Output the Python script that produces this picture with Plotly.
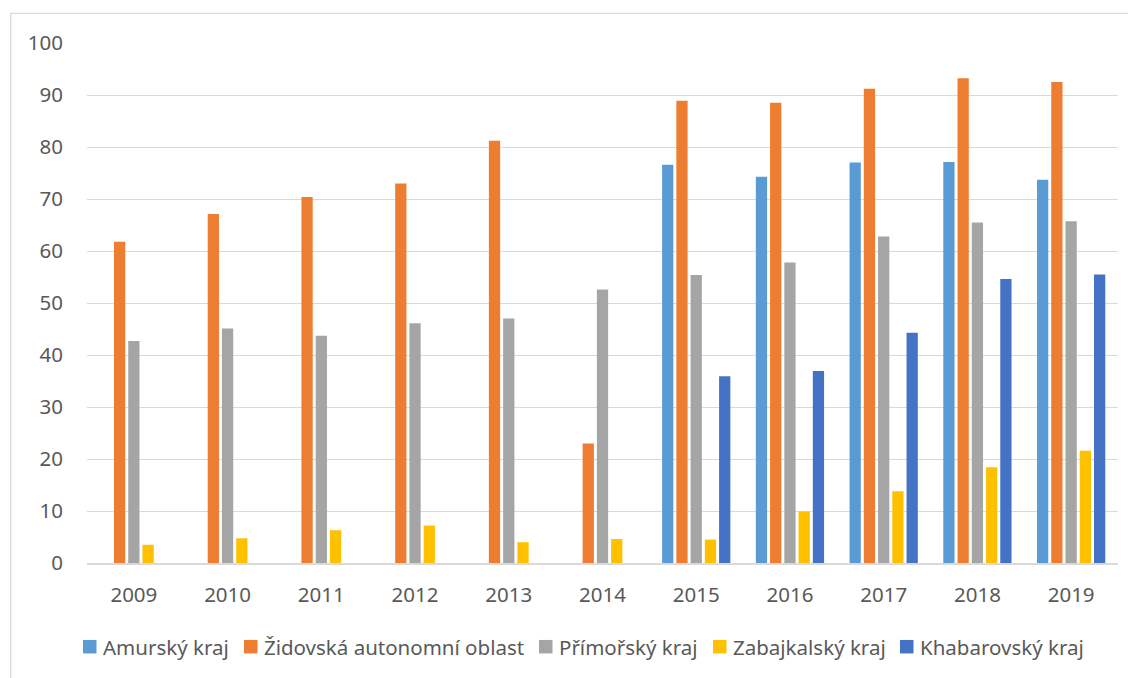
import plotly.graph_objects as go

years = ["2009", "2010", "2011", "2012", "2013", "2014", "2015", "2016", "2017", "2018", "2019"]
amursky = [None, None, None, None, None, None, 76.6, 74.3, 77.0, 77.1, 73.7]
zidovska = [61.8, 67.1, 70.4, 73.0, 81.2, 23.0, 88.9, 88.5, 91.2, 93.2, 92.5]
primorsky = [42.7, 45.1, 43.7, 46.1, 47.0, 52.6, 55.4, 57.8, 62.8, 65.5, 65.7]
zabajkalsky = [3.5, 4.75, 6.3, 7.2, 4.0, 4.6, 4.5, 9.9, 13.8, 18.4, 21.6]
khabarovsky = [None, None, None, None, None, None, 35.9, 36.9, 44.3, 54.6, 55.5]

series_names = ["Amurský kraj", "Židovská autonomní oblast", "Přímořský kraj",
                "Zabajkalský kraj", "Khabarovský kraj"]
series_values = [amursky, zidovska, primorsky, zabajkalsky, khabarovsky]
series_colors = ["#5B9BD5", "#ED7D31", "#A5A5A5", "#FFC000", "#4472C4"]

FONT = "Noto Sans"
FS = 20.5
TXT = "#595959"

OFF = 8  # page body margin
W, H = 1136 - OFF, 678 - OFF
PLOT_L, PLOT_R, PLOT_T, PLOT_B = 87, 1118, 43, 563  # in window pixels
ML, MR, MT, MB = PLOT_L - OFF, 1136 - PLOT_R, PLOT_T - OFF, 678 - PLOT_B
PW, PH = W - ML - MR, H - MT - MB


def px_x(px):
    return (px - PLOT_L) / PW


def px_y(py):
    return (PLOT_B - py) / PH


fig = go.Figure()
for name, vals, col in zip(series_names, series_values, series_colors):
    fig.add_trace(go.Bar(x=years, y=vals, name=name, marker=dict(color=col, line=dict(width=0))))

# manual legend (positions in window pixels)
legend_sq_x = [83, 244, 539, 713, 900]
legend_sq_size = 13.5
legend_cy = 646.7
shapes = [dict(type="rect", xref="paper", yref="paper",
               x0=px_x(10.7), x1=1.05, y0=-0.30, y1=px_y(13.3),
               line=dict(color="#D9D9D9", width=1.3), fillcolor="rgba(0,0,0,0)", layer="below")]
annotations = []
for name, col, sx in zip(series_names, series_colors, legend_sq_x):
    shapes.append(dict(type="rect", xref="paper", yref="paper",
                       x0=px_x(sx), x1=px_x(sx + legend_sq_size),
                       y0=px_y(legend_cy + legend_sq_size / 2), y1=px_y(legend_cy - legend_sq_size / 2),
                       line=dict(width=0), fillcolor=col))
    annotations.append(dict(xref="paper", yref="paper", x=px_x(sx + legend_sq_size + 4), y=px_y(legend_cy),
                            xanchor="left", yanchor="middle", showarrow=False, text=name,
                            font=dict(family=FONT, size=FS, color=TXT)))

fig.update_layout(
    width=W, height=H,
    margin=dict(l=ML, r=MR, t=MT, b=MB, autoexpand=False),
    paper_bgcolor="white", plot_bgcolor="white",
    barmode="group", bargap=0.24, bargroupgap=0.21,
    font=dict(family=FONT, size=FS, color=TXT),
    showlegend=False,
    xaxis=dict(showgrid=False, showline=True, linecolor="#D9D9D9", linewidth=1.5,
               ticks="", ticklabelstandoff=13, tickfont=dict(family=FONT, size=FS, color=TXT)),
    yaxis=dict(range=[0, 100], dtick=10, showgrid=True, gridcolor="#D9D9D9", gridwidth=1.3,
               zeroline=False, showline=False, ticks="", ticklabelstandoff=23,
               tickfont=dict(family=FONT, size=FS, color=TXT)),
    shapes=shapes,
    annotations=annotations,
)

fig.write_html("out.html")
